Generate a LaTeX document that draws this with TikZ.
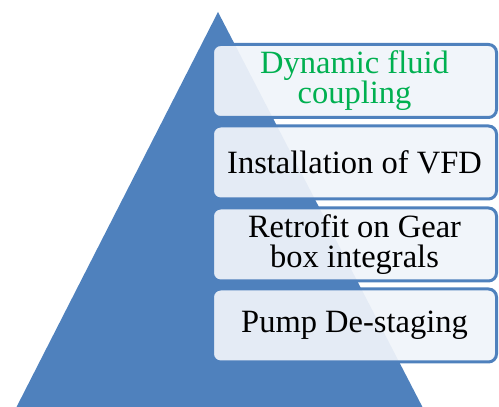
\documentclass[tikz,border=0pt]{standalone}
\usepackage{fontspec}
\setmainfont{Liberation Serif}
\definecolor{triblue}{RGB}{79,129,189}
\definecolor{boxfill}{RGB}{240,244,250}
\definecolor{txtgreen}{RGB}{0,176,80}
\tikzset{
  levelbox/.style={draw=triblue, line width=3pt, rounded corners=8pt,
    fill=boxfill, fill opacity=0.93, text opacity=1,
    minimum width=284pt, minimum height=73pt, inner sep=0pt,
    align=center, font=\fontsize{32.5}{30}\selectfont},
}
\begin{document}
\begin{tikzpicture}[x=1pt,y=1pt]
\useasboundingbox (0,0) rectangle (499,407);
\fill[triblue] (218,395) coordinate (apex) -- (15,-3) coordinate (bl) -- (424,-3) coordinate (br) -- cycle;
\node[levelbox, text=txtgreen] (b1) at (354.5,326) {Dynamic fluid\\coupling};
\node[levelbox] (b2) at (354.5,244.5) {Installation of VFD};
\node[levelbox] (b3) at (354.5,162.5) {Retrofit on Gear\\box integrals};
\node[levelbox] (b4) at (354.5,81.5) {Pump De-staging};
\end{tikzpicture}
\end{document}
